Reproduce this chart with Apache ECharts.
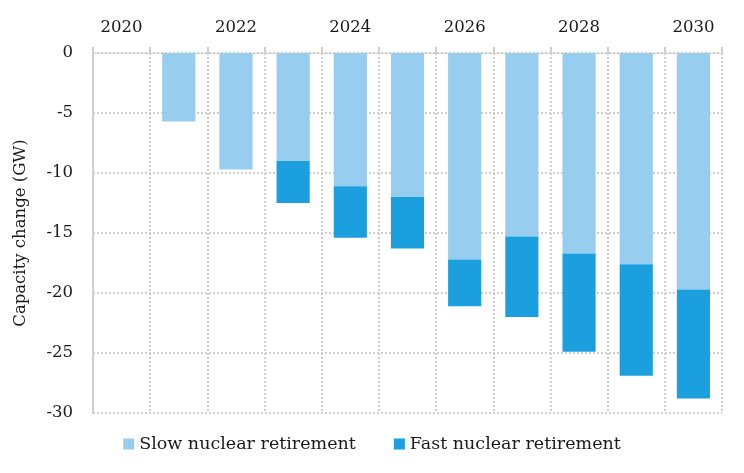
<!DOCTYPE html>
<html>
<head>
<meta charset="utf-8">
<script src="https://cdn.jsdelivr.net/npm/echarts@6/dist/echarts.min.js"></script>
<style>
  html, body { margin: 0; padding: 0; background: #fff; }
  #main { width: 744px; height: 473px; }
</style>
</head>
<body>
<div id="main"></div>
<script>
// years on the x axis (shown on top)
var years = ['2020', '2021', '2022', '2023', '2024', '2025', '2026', '2027', '2028', '2029', '2030'];
// capacity change in GW
var slowRetirement = [0, -5.7, -9.7, -9.0, -11.1, -12.0, -17.2, -15.3, -16.7, -17.6, -19.7];
var fastExtra = [0, 0, 0, -3.5, -4.3, -4.3, -3.9, -6.7, -8.2, -9.3, -9.1];

var font = 'DejaVu Serif';
var gridColor = '#cfcfcf';

var myChart = echarts.init(document.getElementById('main'));
var option = {
    animation: false,
    textStyle: { fontFamily: font },
    grid: {
        left: 93,
        right: 22,
        top: 53,
        bottom: 60
    },
    legend: {
        data: ['Slow nuclear retirement', 'Fast nuclear retirement'],
        left: 'center',
        top: 430,
        itemWidth: 11,
        itemHeight: 11,
        itemGap: 38,
        icon: 'rect',
        textStyle: { fontFamily: font, fontSize: 17.5, color: '#1a1a1a' }
    },
    xAxis: {
        type: 'category',
        position: 'top',
        data: years,
        boundaryGap: true,
        axisLine: { show: true, lineStyle: { color: gridColor, type: 'dotted' } },
        axisTick: { show: true, interval: 0, length: 6, lineStyle: { color: gridColor, width: 2 } },
        axisLabel: {
            interval: 1,
            margin: 17,
            fontFamily: font,
            fontSize: 16.5,
            color: '#1a1a1a'
        },
        splitLine: {
            show: true,
            interval: 0,
            lineStyle: { color: gridColor, width: 2, type: 'dotted' }
        }
    },
    yAxis: {
        type: 'value',
        min: -30,
        max: 0,
        interval: 5,
        name: 'Capacity change (GW)',
        nameLocation: 'middle',
        nameRotate: 90,
        nameGap: 64,
        nameTextStyle: { fontFamily: font, fontSize: 16.5, color: '#1a1a1a' },
        axisLine: { show: true, lineStyle: { color: gridColor, width: 2 } },
        axisTick: { show: false },
        axisLabel: {
            margin: 20,
            fontFamily: font,
            fontSize: 16.5,
            color: '#1a1a1a',
            formatter: function (v) { return String(v); }
        },
        splitLine: {
            show: true,
            lineStyle: { color: gridColor, width: 2, type: 'dotted' }
        }
    },
    series: [
        {
            name: 'Slow nuclear retirement',
            type: 'bar',
            stack: 'total',
            barWidth: '58%',
            itemStyle: { color: '#97cdef' },
            data: slowRetirement
        },
        {
            name: 'Fast nuclear retirement',
            type: 'bar',
            stack: 'total',
            barWidth: '58%',
            itemStyle: { color: '#1c9fdf' },
            data: fastExtra
        }
    ]
};
myChart.setOption(option);
</script>
</body>
</html>
